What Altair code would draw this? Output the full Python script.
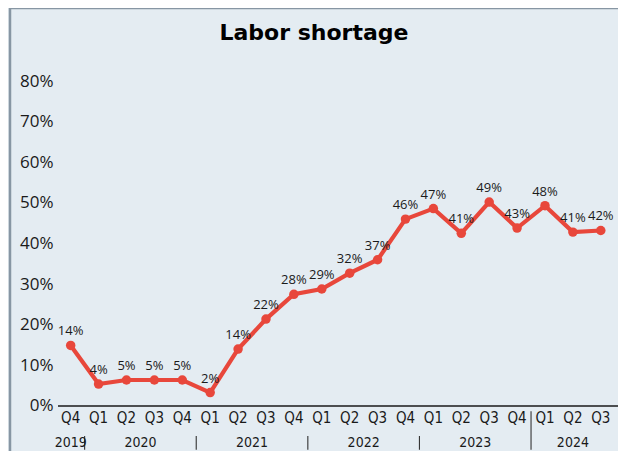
import altair as alt
import pandas as pd

quarters = ["Q4", "Q1", "Q2", "Q3", "Q4", "Q1", "Q2", "Q3", "Q4", "Q1",
            "Q2", "Q3", "Q4", "Q1", "Q2", "Q3", "Q4", "Q1", "Q2", "Q3"]
years = [2019, 2020, 2020, 2020, 2020, 2021, 2021, 2021, 2021, 2022,
         2022, 2022, 2022, 2023, 2023, 2023, 2023, 2024, 2024, 2024]
values = [14.9, 5.4, 6.4, 6.4, 6.4, 3.3, 14.0, 21.4, 27.5, 28.8,
          32.7, 36.0, 46.0, 48.6, 42.5, 50.2, 43.8, 49.3, 42.8, 43.2]
labels = ["14%", "4%", "5%", "5%", "5%", "2%", "14%", "22%", "28%", "29%",
          "32%", "37%", "46%", "47%", "41%", "49%", "43%", "48%", "41%", "42%"]
y_ticks = [0, 10, 20, 30, 40, 50, 60, 70, 80]

df = pd.DataFrame({"idx": list(range(len(quarters))), "q": quarters,
                   "year": [str(y) for y in years], "value": values, "label": labels})
year_df = df.groupby("year", as_index=False)["idx"].mean()
seps = [i + 0.5 for i in range(len(years) - 1) if years[i] != years[i + 1]]
sep_df = pd.DataFrame({"pos": seps, "long": [0] * (len(seps) - 1) + [1]})
base_df = pd.DataFrame({"x0": [df["idx"].min() - 0.455], "x1": [df["idx"].max() + 0.62]})

XD = [-2.175, 19.617]
YD = [-11.08, 97.97]
xs = alt.Scale(domain=XD, nice=False, zero=False)
ys = alt.Scale(domain=YD, nice=False, zero=False)
frame_df = pd.DataFrame({"x0": [XD[0], XD[0]], "x1": [XD[0], XD[1]],
                         "y0": [YD[0], YD[1]], "y1": [YD[1], YD[1]]})

RED = "#e8473b"
INK = "#1a1a1a"
LBL = "Liberation Sans Narrow, DejaVu Sans Condensed, Open Sans"

yaxis = alt.Axis(values=y_ticks, labelExpr="datum.value + '%'",
                 orient="left", offset=-44, labelPadding=1,
                 ticks=False, domain=False, grid=False,
                 labelFont="Open Sans", labelFontSize=17,
                 labelColor=INK, zindex=1)
xenc = lambda f: alt.X(f, scale=xs, axis=None)
yenc = lambda f: alt.Y(f, scale=ys, axis=yaxis, title=None)

line = alt.Chart(df).mark_line(color=RED, strokeWidth=4.2).encode(
    x=xenc("idx:Q"), y=yenc("value:Q"))
pts = alt.Chart(df).mark_circle(color=RED, size=90, opacity=1).encode(
    x=xenc("idx:Q"), y=yenc("value:Q"))
txt = alt.Chart(df).mark_text(font="Open Sans", fontSize=13, color=INK,
                              dy=-14, baseline="middle").encode(
    x=xenc("idx:Q"), y=yenc("value:Q"), text="label:N")
baseline = alt.Chart(base_df).transform_calculate(zero="0").mark_rule(
    color=INK, strokeWidth=1.5).encode(
    x=xenc("x0:Q"), x2="x1:Q", y=yenc("zero:Q"))
qlab = alt.Chart(df).transform_calculate(zero="0").mark_text(
    font=LBL, fontSize=15, color=INK, dy=12, baseline="middle").encode(
    x=xenc("idx:Q"), y=yenc("zero:Q"), text="q:N")
ylab = alt.Chart(year_df).transform_calculate(zero="0").mark_text(
    font=LBL, fontSize=14, color=INK, dy=37, baseline="middle").encode(
    x=xenc("idx:Q"), y=yenc("zero:Q"), text="year:N")
seps_chart = alt.Chart(sep_df).transform_calculate(
    top="datum.long == 1 ? -1.3 : -7.4", bot="-10.8").mark_rule(
    color="#333333", strokeWidth=1.1).encode(
    x=xenc("pos:Q"), y=yenc("top:Q"), y2="bot:Q")
frame = alt.Chart(frame_df).mark_rule(color="#8796a3", strokeWidth=2.5).encode(
    x=xenc("x0:Q"), x2="x1:Q", y=yenc("y0:Q"), y2="y1:Q")

chart = alt.layer(line, pts, txt, baseline, seps_chart, qlab, ylab, frame).properties(
    width=608, height=443,
    autosize=alt.AutoSizeParams(type="none"),
    padding={"left": 2, "top": 0, "right": 0, "bottom": 0},
    background="#e4ecf2",
    title=alt.TitleParams("Labor shortage", font="DejaVu Sans", fontWeight="bold",
                          fontSize=22, color="#000000", anchor="middle", offset=-38),
).configure_view(strokeWidth=0, fill="#e4ecf2")

chart.save("out.html", embed_options={"renderer": "svg", "actions": False})
